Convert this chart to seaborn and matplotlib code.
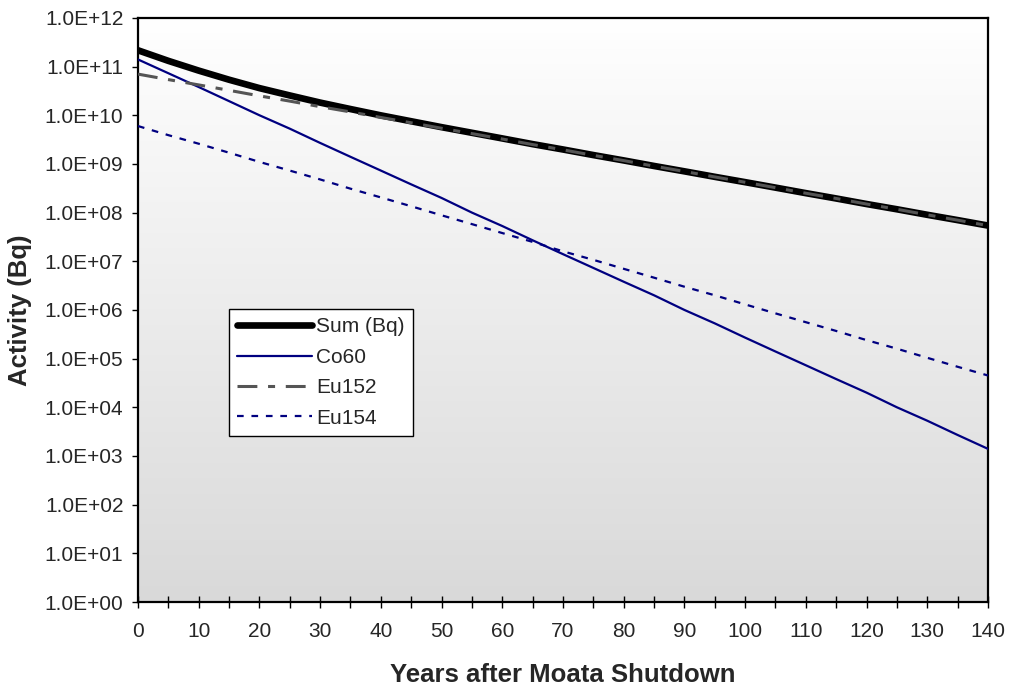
import numpy as np
import pandas as pd
import seaborn as sns
import matplotlib
matplotlib.use('Agg')
import matplotlib.pyplot as plt
from matplotlib.colors import LinearSegmentedColormap
from matplotlib.ticker import FixedLocator, FuncFormatter

# Years after shutdown (points every 5 years)
years = [0, 5, 10, 15, 20, 25, 30, 35, 40, 45, 50, 55, 60, 65, 70,
         75, 80, 85, 90, 95, 100, 105, 110, 115, 120, 125, 130, 135, 140]

# Activity values (Bq)
sum_bq = [2.16e11, 1.31e11, 8.26e10, 5.37e10, 3.61e10, 2.55e10, 1.82e10, 1.34e10,
          9.94e9, 7.52e9, 5.69e9, 4.36e9, 3.34e9, 2.55e9, 1.98e9, 1.52e9, 1.18e9,
          9.07e8, 7.04e8, 5.43e8, 4.22e8, 3.26e8, 2.51e8, 1.95e8, 1.50e8, 1.17e8,
          9.01e7, 7.01e7, 5.41e7]
co60 = [1.4e11, 7.3e10, 3.8e10, 1.95e10, 1.0e10, 5.3e9, 2.7e9, 1.4e9, 7.3e8,
        3.8e8, 2.0e8, 1.0e8, 5.3e7, 2.7e7, 1.4e7, 7.3e6, 3.8e6, 2.0e6, 1.0e6,
        5.3e5, 2.7e5, 1.4e5, 7.3e4, 3.8e4, 2.0e4, 1.0e4, 5.3e3, 2.7e3, 1.4e3]
eu152 = [7.0e10, 5.4e10, 4.2e10, 3.25e10, 2.5e10, 1.95e10, 1.5e10, 1.17e10, 9.0e9,
         7.0e9, 5.4e9, 4.2e9, 3.25e9, 2.5e9, 1.95e9, 1.5e9, 1.17e9, 9.0e8, 7.0e8,
         5.4e8, 4.2e8, 3.25e8, 2.5e8, 1.95e8, 1.5e8, 1.17e8, 9.0e7, 7.0e7, 5.4e7]
eu154 = [6.0e9, 3.9e9, 2.6e9, 1.7e9, 1.1e9, 7.3e8, 4.8e8, 3.1e8, 2.05e8, 1.35e8,
         8.8e7, 5.8e7, 3.8e7, 2.5e7, 1.6e7, 1.07e7, 7.0e6, 4.6e6, 3.0e6, 2.0e6,
         1.3e6, 8.5e5, 5.6e5, 3.7e5, 2.4e5, 1.6e5, 1.04e5, 6.8e4, 4.5e4]

df = pd.DataFrame({'Years': years, 'Sum (Bq)': sum_bq, 'Co60': co60,
                   'Eu152': eu152, 'Eu154': eu154})

sns.set_style('ticks')
plt.rcParams['font.family'] = ['Liberation Sans', 'DejaVu Sans']

fig = plt.figure(figsize=(10.1, 6.88), dpi=100)
ax = fig.add_axes([0.1366, 0.125, 0.8416, 0.849])

# gradient background, white at top to grey at bottom
grad = np.linspace(0, 1, 256).reshape(-1, 1)
cmap = LinearSegmentedColormap.from_list('bg', ['#ffffff', '#d9d9d9'])
ax.imshow(grad, cmap=cmap, aspect='auto', extent=[0, 1, 0, 1], origin='upper',
          transform=ax.transAxes, zorder=0)

sns.lineplot(data=df, x='Years', y='Sum (Bq)', ax=ax, color='black', lw=4.8,
             label='Sum (Bq)', zorder=3)
sns.lineplot(data=df, x='Years', y='Co60', ax=ax, color='#000080', lw=1.6,
             label='Co60', zorder=4)
sns.lineplot(data=df, x='Years', y='Eu152', ax=ax, color='#555555', lw=2.2,
             linestyle=(0, (6.5, 3.5, 2.3, 3.5)), label='Eu152', zorder=5)
sns.lineplot(data=df, x='Years', y='Eu154', ax=ax, color='#000080', lw=1.6,
             linestyle=(0, (3, 3.5)), label='Eu154', zorder=4)

ax.set_yscale('log')
ax.set_ylim(1, 1e12)
ax.set_xlim(0, 140)
ax.yaxis.set_major_locator(FixedLocator([10.0 ** k for k in range(13)]))
ax.yaxis.set_minor_locator(FixedLocator([]))
ax.yaxis.set_major_formatter(FuncFormatter(lambda v, p: '1.0E+%02d' % round(np.log10(v))))
ax.xaxis.set_major_locator(FixedLocator(range(0, 141, 10)))
ax.xaxis.set_minor_locator(FixedLocator(range(5, 141, 10)))

ax.tick_params(axis='y', which='major', direction='out', length=4.5, width=1,
               pad=6, labelsize=15, color='black')
ax.tick_params(axis='x', which='both', direction='inout', length=8.5, width=1,
               pad=10, labelsize=15, color='black')

for s in ax.spines.values():
    s.set_visible(True)
    s.set_color('black')
    s.set_linewidth(1.6)

ax.set_xlabel('Years after Moata Shutdown', fontsize=18.5, fontweight='bold')
ax.set_ylabel('Activity (Bq)', fontsize=18.5, fontweight='bold')
ax.xaxis.set_label_coords(0.5, -0.104)
ax.yaxis.set_label_coords(-0.125, 0.5)

leg = ax.legend(loc='lower left', bbox_to_anchor=(0.107, 0.284), borderaxespad=0,
                fontsize=15, frameon=True, fancybox=False, framealpha=1,
                edgecolor='black', handlelength=3.6, handletextpad=0.2,
                labelspacing=0.55, borderpad=0.4)
leg.get_frame().set_linewidth(1)
leg.set_zorder(10)

fig.savefig('out.png', dpi=100, facecolor='white')
